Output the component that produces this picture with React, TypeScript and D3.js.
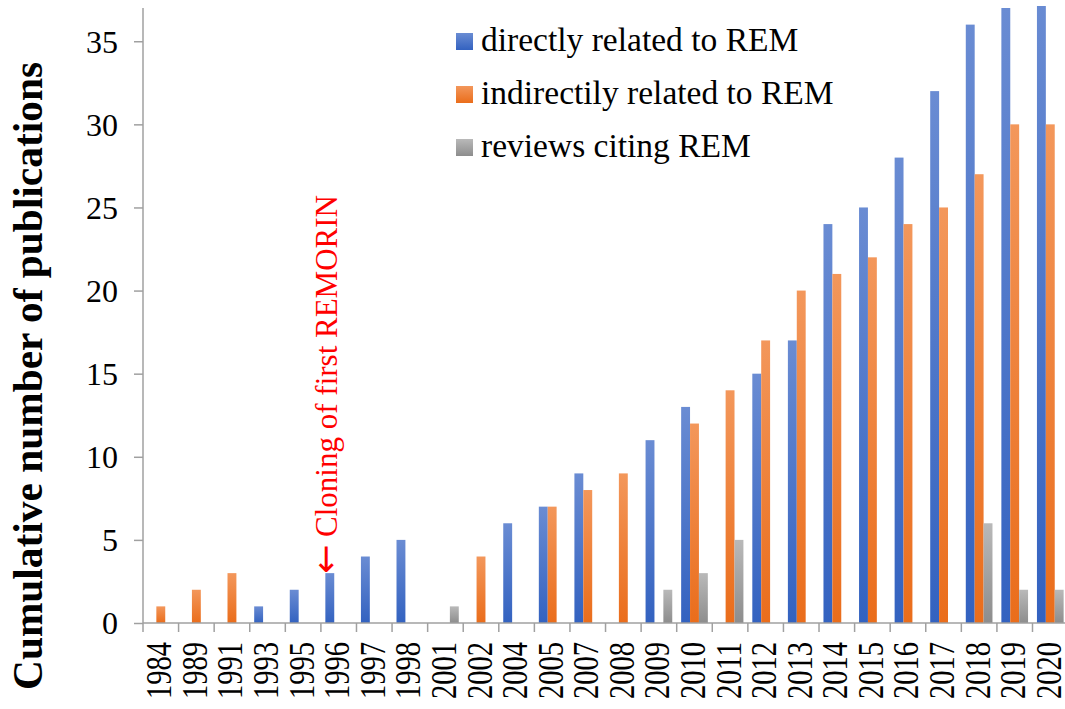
import React, { useEffect, useRef } from "react";
import * as d3 from "d3";

const years = [
  "1984", "1989", "1991", "1993", "1995", "1996", "1997", "1998", "2001",
  "2002", "2004", "2005", "2007", "2008", "2009", "2010", "2011", "2012",
  "2013", "2014", "2015", "2016", "2017", "2018", "2019", "2020",
];
const direct = [0, 0, 0, 1, 2, 3, 4, 5, 0, 0, 6, 7, 9, 0, 11, 13, 0, 15, 17, 24, 25, 28, 32, 36, 37, 38];
const indirect = [1, 2, 3, 0, 0, 0, 0, 0, 0, 4, 0, 7, 8, 9, 0, 12, 14, 17, 20, 21, 22, 24, 25, 27, 30, 30];
const reviews = [0, 0, 0, 0, 0, 0, 0, 0, 1, 0, 0, 0, 0, 0, 2, 3, 5, 0, 0, 0, 0, 0, 0, 6, 2, 2];
const seriesNames = ["directly related to REM", "indirectily related to REM", "reviews citing REM"];
const yTicks = [0, 5, 10, 15, 20, 25, 30, 35];

const FONT = "'Times New Roman', 'Liberation Serif', serif";
const gradients = [
  { id: "gBlue", top: "#6a8cd3", bottom: "#3362c0" },
  { id: "gOrange", top: "#f3975b", bottom: "#ea6d1b" },
  { id: "gGray", top: "#b9b9b9", bottom: "#8d8d8d" },
];

function App() {
  const ref = useRef<SVGSVGElement | null>(null);

  useEffect(() => {
    const svg = d3.select(ref.current);
    svg.selectAll("*").remove();

    const left = 143;
    const top = 8;
    const bottom = 623;
    const bandW = 35.58;
    const right = left + bandW * years.length;

    const x = d3.scaleBand().domain(years).range([left, right]).padding(0);
    const x1 = d3
      .scaleBand()
      .domain(seriesNames)
      .range([0, x.bandwidth()])
      .paddingInner(0)
      .paddingOuter(0.5);
    const y = d3.scaleLinear().domain([0, 37]).range([bottom, top]);

    const defs = svg.append("defs");
    gradients.forEach((g) => {
      const lg = defs
        .append("linearGradient")
        .attr("id", g.id)
        .attr("x1", 0)
        .attr("y1", 0)
        .attr("x2", 0)
        .attr("y2", 1);
      lg.append("stop").attr("offset", "0%").attr("stop-color", g.top);
      lg.append("stop").attr("offset", "100%").attr("stop-color", g.bottom);
    });
    defs
      .append("clipPath")
      .attr("id", "plotClip")
      .append("rect")
      .attr("x", left)
      .attr("y", 6)
      .attr("width", right - left)
      .attr("height", bottom - 6);

    const data = [direct, indirect, reviews];

    const bars = svg.append("g").attr("clip-path", "url(#plotClip)");
    data.forEach((vals, si) => {
      bars
        .selectAll(`.bar${si}`)
        .data(vals.map((v, i) => ({ year: years[i], v })).filter((d) => d.v > 0))
        .enter()
        .append("rect")
        .attr("x", (d) => (x(d.year) as number) + (x1(seriesNames[si]) as number))
        .attr("y", (d) => y(d.v))
        .attr("width", x1.bandwidth())
        .attr("height", (d) => bottom - y(d.v))
        .attr("fill", `url(#${gradients[si].id})`);
    });

    const axisColor = "#a0a0a0";

    // y axis
    const yAxis = svg
      .append("g")
      .attr("transform", `translate(${left},0)`)
      .call(d3.axisLeft(y).tickValues(yTicks).tickSize(9).tickPadding(16));
    yAxis.select(".domain").attr("stroke", axisColor).attr("stroke-width", 1.5).attr("d", `M0,${top}V${bottom}`);
    yAxis.selectAll(".tick line").attr("stroke", axisColor).attr("stroke-width", 1.5);
    yAxis
      .selectAll(".tick text")
      .attr("font-family", FONT)
      .attr("font-size", 32)
      .attr("fill", "#000")
      .attr("dy", "0.34em");

    // x axis
    const xg = svg.append("g");
    xg.append("line")
      .attr("x1", left)
      .attr("x2", right)
      .attr("y1", bottom)
      .attr("y2", bottom)
      .attr("stroke", axisColor)
      .attr("stroke-width", 1.5);
    xg.selectAll(".xt")
      .data(d3.range(years.length + 1))
      .enter()
      .append("line")
      .attr("x1", (i) => left + i * x.step())
      .attr("x2", (i) => left + i * x.step())
      .attr("y1", bottom)
      .attr("y2", bottom + 9)
      .attr("stroke", axisColor)
      .attr("stroke-width", 1.5);
    xg.selectAll(".xl")
      .data(years)
      .enter()
      .append("text")
      .attr("transform", (d) => `translate(${(x(d) as number) + x.bandwidth() / 2},642) rotate(-90)`)
      .attr("text-anchor", "end")
      .attr("dy", 10.5)
      .attr("font-family", FONT)
      .attr("font-size", 36)
      .attr("textLength", 57)
      .attr("lengthAdjust", "spacingAndGlyphs")
      .text((d) => d);

    // y title
    svg
      .append("text")
      .attr("transform", `translate(42,376) rotate(-90)`)
      .attr("text-anchor", "middle")
      .attr("font-family", FONT)
      .attr("font-weight", "bold")
      .attr("font-size", 43)
      .attr("textLength", 628)
      .attr("lengthAdjust", "spacingAndGlyphs")
      .text("Cumulative number of publications");

    // annotation
    const note = svg
      .append("text")
      .attr("transform", `translate(337,574) rotate(-90)`)
      .attr("text-anchor", "start")
      .attr("font-family", FONT)
      .attr("font-size", 31)
      .attr("fill", "#ff0000");
    note
      .append("tspan")
      .attr("font-family", "'DejaVu Sans', sans-serif")
      .attr("font-size", 35)
      .text("\u2190");
    note.append("tspan").text(" Cloning of first REMORIN");

    // legend
    const legend = svg.append("g");
    seriesNames.forEach((name, i) => {
      const cy = 41.5 + i * 53;
      legend
        .append("rect")
        .attr("x", 456)
        .attr("y", cy - 8.5)
        .attr("width", 17)
        .attr("height", 17)
        .attr("fill", `url(#${gradients[i].id})`);
      legend
        .append("text")
        .attr("x", 481)
        .attr("y", cy + 9)
        .attr("font-family", FONT)
        .attr("font-size", 33.5)
        .attr("fill", "#000")
        .text(name);
    });
  }, []);

  return (
    <svg
      ref={ref}
      width={1065}
      height={709}
      style={{ position: "absolute", left: 0, top: 0, background: "#fff" }}
    />
  );
}

export default App;
